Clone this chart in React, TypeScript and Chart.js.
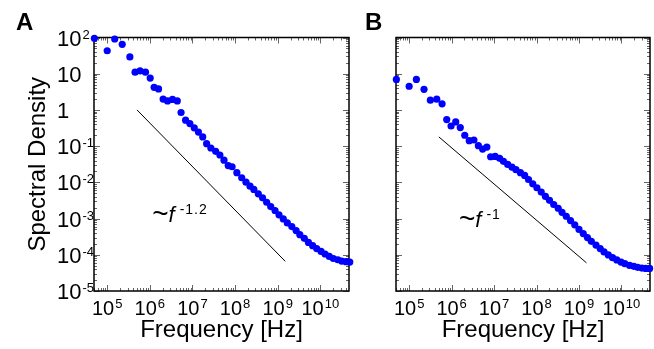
import React, { useEffect, useRef } from "react";
import { Chart, registerables } from "chart.js";
Chart.register(...registerables);

// Panel A data
const freqA = [5e4, 1e5, 1.5e5, 2.25e5, 3.4e5, 4.5e5, 5.9e5, 7.9e5, 1.02e6, 1.26e6, 1.6e6, 2.05e6, 2.6e6, 3.4e6, 4.4e6, 5.4e6, 6.9e6, 8.7e6, 1.1e7, 1.38e7, 1.74e7, 2.15e7, 2.7e7, 3.5e7, 4.4e7, 5.5e7, 6.9e7, 8.5e7, 1.1e8, 1.43e8, 1.8e8, 2.24e8, 2.75e8, 3.5e8, 4.4e8, 5.5e8, 6.85e8, 8.65e8, 1.07e9, 1.35e9, 1.68e9, 2.14e9, 2.7e9, 3.3e9, 4.2e9, 5.25e9, 6.6e9, 8.2e9, 1.04e10, 1.29e10, 1.62e10, 2.02e10, 2.57e10, 3.16e10, 4.0e10, 4.9e10];
const densA = [95, 43, 91, 65, 29, 11, 12, 11, 7.6, 4.2, 3.8, 2.0, 1.77, 1.95, 1.77, 0.85, 0.52, 0.42, 0.32, 0.245, 0.18, 0.117, 0.089, 0.072, 0.057, 0.041, 0.029, 0.027, 0.0185, 0.0134, 0.0101, 0.00785, 0.00636, 0.00483, 0.00374, 0.00282, 0.00215, 0.00167, 0.00127, 9.8e-4, 7.6e-4, 6.0e-4, 4.66e-4, 3.6e-4, 2.85e-4, 2.2e-4, 1.79e-4, 1.48e-4, 1.24e-4, 1.05e-4, 9.0e-5, 7.9e-5, 7.3e-5, 6.7e-5, 6.45e-5, 6.3e-5];

// Panel B data
const freqB = [5e4, 1e5, 1.48e5, 2.24e5, 3.16e5, 4.47e5, 5.96e5, 7.67e5, 9.7e5, 1.25e6, 1.6e6, 2.04e6, 2.6e6, 3.35e6, 4.27e6, 5.37e6, 6.76e6, 8.3e6, 1.06e7, 1.35e7, 1.66e7, 2.09e7, 2.63e7, 3.27e7, 4.17e7, 5.25e7, 6.46e7, 8.13e7, 1.02e8, 1.29e8, 1.62e8, 2.02e8, 2.54e8, 3.24e8, 3.98e8, 5.01e8, 6.31e8, 7.94e8, 1.0e9, 1.26e9, 1.58e9, 1.95e9, 2.51e9, 3.16e9, 3.89e9, 4.9e9, 6.17e9, 7.76e9, 9.77e9, 1.2e10, 1.55e10, 1.95e10, 2.4e10, 3.02e10, 3.72e10, 4.6e10];
const densB = [6.95, 4.5, 6.95, 3.7, 1.86, 1.98, 1.47, 0.54, 0.36, 0.465, 0.325, 0.2, 0.142, 0.148, 0.103, 0.083, 0.094, 0.051, 0.052, 0.046, 0.038, 0.0313, 0.0264, 0.0224, 0.0185, 0.0155, 0.012, 0.0091, 0.0071, 0.0054, 0.0041, 0.0032, 0.00245, 0.00193, 0.00149, 0.00116, 8.8e-4, 6.7e-4, 5.0e-4, 3.85e-4, 2.98e-4, 2.35e-4, 1.86e-4, 1.48e-4, 1.2e-4, 9.9e-5, 8.3e-5, 7.2e-5, 6.3e-5, 5.7e-5, 5.1e-5, 4.8e-5, 4.5e-5, 4.3e-5, 4.2e-5, 4.2e-5];

// Power-law guide lines
const guideFreq = [5e5, 1.5e9];
const guideA = [1, 6.6e-5];
const guideB = [0.18, 6e-5];

// Axis ticks (decade exponents)
const xTickExps = [5, 6, 7, 8, 9, 10];
const yTickExps = [2, 1, 0, -1, -2, -3, -4, -5];

const X_MIN = 4.9e4;
const X_MAX = 4.7e10;
const Y_MIN = 1e-5;
const Y_MAX = 1e2;

const FONT = '"Liberation Sans", Arial, Helvetica, sans-serif';

function drawPow(ctx: CanvasRenderingContext2D, x: number, baseline: number, base: string, sup: string, main: number, supSize: number, raise: number, align: string) {
  ctx.font = `${main}px ${FONT}`;
  const w1 = ctx.measureText(base).width;
  ctx.font = `${supSize}px ${FONT}`;
  const w2 = sup ? ctx.measureText(sup).width + 1 : 0;
  const start = align === "center" ? x - (w1 + w2) / 2 : x;
  ctx.textAlign = "left";
  ctx.textBaseline = "alphabetic";
  ctx.font = `${main}px ${FONT}`;
  ctx.fillText(base, start, baseline);
  if (sup) {
    ctx.font = `${supSize}px ${FONT}`;
    ctx.fillText(sup, start + w1 + 1, baseline - raise);
  }
}

function makeDecor(opts: any) {
  return {
    id: "decor",
    beforeDatasetsDraw(chart: any) {
      const ctx = chart.ctx as CanvasRenderingContext2D;
      const { left, right, top, bottom } = chart.chartArea;
      const xs = chart.scales.x;
      const ys = chart.scales.y;
      ctx.save();
      ctx.strokeStyle = "#666";
      ctx.lineWidth = 1;
      ctx.beginPath();
      for (let d = 4; d <= 10; d++) {
        for (let k = 1; k <= 9; k++) {
          const v = k * Math.pow(10, d);
          if (v < X_MIN || v > X_MAX) continue;
          const px = Math.round(xs.getPixelForValue(v)) + 0.5;
          const len = k === 1 ? 6 : 3;
          ctx.moveTo(px, bottom);
          ctx.lineTo(px, bottom - len);
          ctx.moveTo(px, top);
          ctx.lineTo(px, top + len);
        }
      }
      for (let d = -5; d <= 2; d++) {
        for (let k = 1; k <= 9; k++) {
          const v = k * Math.pow(10, d);
          if (v < Y_MIN * 0.999 || v > Y_MAX * 1.001) continue;
          const py = Math.round(ys.getPixelForValue(v)) + 0.5;
          const len = k === 1 ? 6 : 3;
          ctx.moveTo(left, py);
          ctx.lineTo(left + len, py);
          ctx.moveTo(right, py);
          ctx.lineTo(right - len, py);
        }
      }
      ctx.stroke();
      ctx.strokeStyle = "#000";
      ctx.lineWidth = 1.5;
      ctx.strokeRect(left, top, right - left, bottom - top);
      ctx.restore();
    },
    afterDraw(chart: any) {
      const ctx = chart.ctx as CanvasRenderingContext2D;
      const { left, right, top, bottom } = chart.chartArea;
      const xs = chart.scales.x;
      const ys = chart.scales.y;
      ctx.save();
      ctx.fillStyle = "#000";
      for (const e of xTickExps) {
        const px = xs.getPixelForValue(Math.pow(10, e));
        drawPow(ctx, px, 315, "10", String(e), 20, 13, 7, "center");
      }
      if (opts.yLabels) {
        for (const e of yTickExps) {
          const py = ys.getPixelForValue(Math.pow(10, e));
          const base = e === 0 ? "1" : "10";
          const sup = e === 0 || e === 1 ? "" : String(e);
          drawPow(ctx, 57, py + 8, base, sup, 22, 13, 7, "left");
        }
        ctx.save();
        ctx.translate(38, (top + bottom) / 2);
        ctx.rotate(-Math.PI / 2);
        ctx.font = `24px ${FONT}`;
        ctx.textAlign = "center";
        ctx.textBaseline = "middle";
        ctx.fillText("Spectral Density", 0, 0);
        ctx.restore();
      }
      ctx.font = `24px ${FONT}`;
      ctx.textAlign = "center";
      ctx.textBaseline = "alphabetic";
      ctx.fillText("Frequency [Hz]", (left + right) / 2, 337);
      ctx.font = `bold 24px ${FONT}`;
      ctx.textAlign = "left";
      ctx.fillText(opts.panel, opts.panelX, 30);
      // slope annotation
      const ax = xs.getPixelForValue(opts.noteAt[0]);
      const ay = ys.getPixelForValue(opts.noteAt[1]);
      ctx.font = `28px ${FONT}`;
      ctx.fillText("~", ax - 1, ay + 1);
      const wt = ctx.measureText("~").width;
      ctx.font = `italic 22px ${FONT}`;
      ctx.fillText("f", ax + wt - 1, ay);
      const wf = ctx.measureText("f").width;
      ctx.font = `14px ${FONT}`;
      (ctx as any).letterSpacing = "1px";
      ctx.fillText(opts.note, ax + wt + wf + 4, ay - 8);
      (ctx as any).letterSpacing = "0px";
      ctx.restore();
    },
  };
}

function Panel(props: { freq: number[]; dens: number[]; guide: number[]; width: number; pad: any; decor: any }) {
  const ref = useRef<HTMLCanvasElement>(null);
  useEffect(() => {
    const canvas = ref.current!;
    const chart = new Chart(canvas, {
      type: "scatter",
      data: {
        datasets: [
          {
            data: props.freq.map((f, i) => ({ x: f, y: props.dens[i] })),
            backgroundColor: "rgb(0,0,255)",
            borderColor: "rgb(0,0,255)",
            borderWidth: 0,
            pointRadius: 3.6,
            clip: false as any,
          },
          {
            type: "line" as any,
            data: guideFreq.map((f, i) => ({ x: f, y: props.guide[i] })),
            borderColor: "#000",
            borderWidth: 1,
            pointRadius: 0,
            showLine: true,
            fill: false,
          },
        ],
      },
      options: {
        responsive: false,
        animation: false,
        devicePixelRatio: 1,
        layout: { padding: props.pad },
        plugins: { legend: { display: false }, tooltip: { enabled: false } },
        scales: {
          x: { type: "logarithmic", min: X_MIN, max: X_MAX, display: false, bounds: "data" } as any,
          y: { type: "logarithmic", min: Y_MIN, max: Y_MAX, display: false, bounds: "data" } as any,
        },
      },
      plugins: [makeDecor(props.decor)],
    });
    return () => chart.destroy();
  }, []);
  return <canvas ref={ref} width={props.width} height={349} style={{ display: "block", width: props.width, height: 349 }} />;
}

export default function App() {
  return (
    <div style={{ position: "absolute", left: 0, top: 0, width: 654, height: 349, display: "flex", background: "#fff" }}>
      <Panel
        freq={freqA}
        dens={densA}
        guide={guideA}
        width={360}
        pad={{ left: 94, right: 11, top: 37.5, bottom: 58 }}
        decor={{ yLabels: true, panel: "A", panelX: 16, noteAt: [1.2e6, 8e-4], note: "-1.2" }}
      />
      <Panel
        freq={freqB}
        dens={densB}
        guide={guideB}
        width={294}
        pad={{ left: 36, right: 4, top: 37.5, bottom: 58 }}
        decor={{ yLabels: false, panel: "B", panelX: 5, noteAt: [1.57e6, 6e-4], note: "-1" }}
      />
    </div>
  );
}
